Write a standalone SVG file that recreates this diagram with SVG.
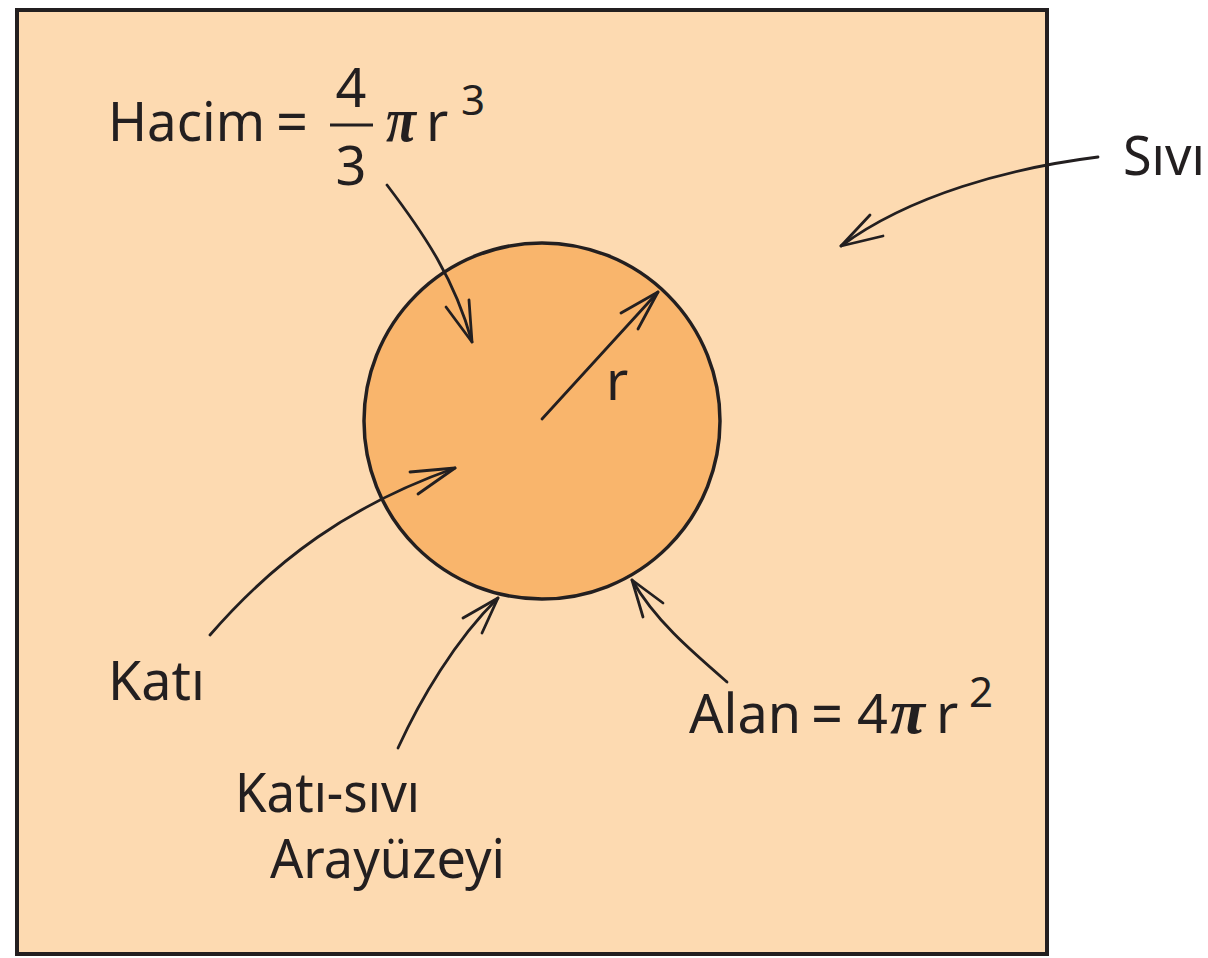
<svg xmlns="http://www.w3.org/2000/svg" width="1208" height="958" viewBox="0 0 1208 958">
<style>
.t{font-family:"Noto Sans","Open Sans",sans-serif;font-size:54px;fill:#231f20}
.eq{font-family:"Noto Sans","Open Sans",sans-serif;font-size:60px;fill:#231f20}
.pi{font-family:"Liberation Serif",serif;font-style:italic;font-weight:bold;font-size:64px;fill:#231f20}
.c{fill:none;stroke:#231f20;stroke-width:2.8;stroke-linecap:round;stroke-linejoin:round}
</style>
<rect id="bg" x="0" y="0" width="1208" height="958" fill="#ffffff"/>
<g id="liquid"><rect x="17" y="10" width="1030" height="944" fill="#fddab1" stroke="#231f20" stroke-width="4"/></g>
<g id="solid"><circle cx="542" cy="421" r="178" fill="#f9b56c" stroke="#231f20" stroke-width="3.5"/></g>
<g id="connectors">
<path class="c" d="M1098,157 C1010,168 910,195 841,246"/>
<path class="c" d="M870,215 L841,246 L883,236"/>
<path class="c" d="M387,185 C425,235 455,280 472,342"/>
<path class="c" d="M446,307 L472,342 L469,300"/>
<path class="c" d="M542,419 L658,292"/>
<path class="c" d="M621,313 L658,292 L638,329"/>
<path class="c" d="M210,635 C275,560 350,505 455,468"/>
<path class="c" d="M410,472 L455,468 L418,494"/>
<path class="c" d="M398,748 C420,700 455,640 498,598"/>
<path class="c" d="M463,618 L498,598 L482,633"/>
<path class="c" d="M727,682 C690,650 655,620 632,580"/>
<path class="c" d="M663,603 L632,580 L643,617"/>
</g>
<g id="label-hacim">
<text class="t" x="108" y="141" textLength="157" lengthAdjust="spacingAndGlyphs">Hacim</text>
<text class="eq" x="276" y="143" textLength="32" lengthAdjust="spacingAndGlyphs">=</text>
<text class="t" x="351" y="107" text-anchor="middle">4</text>
<line x1="330" y1="125" x2="373" y2="125" stroke="#231f20" stroke-width="2.8"/>
<text class="t" x="351" y="185" text-anchor="middle">3</text>
<text class="pi" x="386" y="141" textLength="30" lengthAdjust="spacingAndGlyphs">π</text>
<text class="t" x="426" y="141">r</text>
<text class="t" x="461" y="115" style="font-size:42px">3</text>
</g>
<g id="label-sivi"><text class="t" x="1123" y="175" textLength="82" lengthAdjust="spacingAndGlyphs">Sıvı</text></g>
<g id="label-r"><text class="t" x="606" y="400">r</text></g>
<g id="label-kati"><text class="t" x="108" y="700" textLength="97" lengthAdjust="spacingAndGlyphs">Katı</text></g>
<g id="label-arayuzey">
<text class="t" x="235" y="812" textLength="185" lengthAdjust="spacingAndGlyphs">Katı-sıvı</text>
<text class="t" x="270" y="878" textLength="235" lengthAdjust="spacingAndGlyphs">Arayüzeyi</text>
</g>
<g id="label-alan">
<text class="t" x="689" y="733" textLength="112" lengthAdjust="spacingAndGlyphs">Alan</text>
<text class="eq" x="811" y="735" textLength="32" lengthAdjust="spacingAndGlyphs">=</text>
<text class="t" x="857" y="733">4</text>
<text class="pi" x="890" y="733" textLength="35" lengthAdjust="spacingAndGlyphs">π</text>
<text class="t" x="936" y="733">r</text>
<text class="t" x="969" y="707" style="font-size:42px">2</text>
</g>
</svg>
